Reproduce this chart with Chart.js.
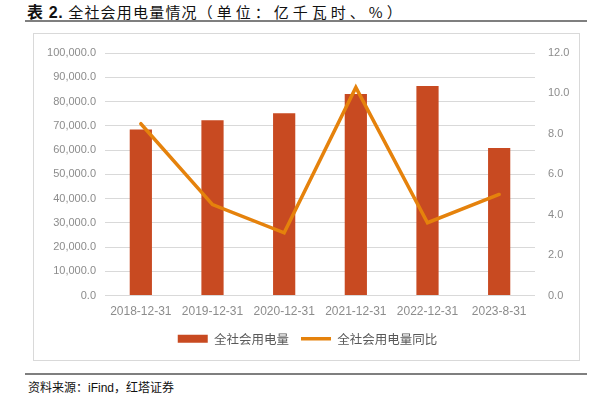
<!DOCTYPE html>
<html>
<head>
<meta charset="utf-8">
<script src="https://cdn.jsdelivr.net/npm/chart.js@4"></script>
<style>
  body { margin: 0; width: 600px; height: 398px; background: #fff; position: relative; overflow: hidden; }
  .title { position: absolute; left: 27px; top: -1px; font: 15px "Noto Sans CJK SC", sans-serif; color: #111; white-space: nowrap; letter-spacing: 1.2px; }
  .title b { font: bold 16px "Liberation Sans", "Noto Sans CJK SC", sans-serif; margin-right: 5px; letter-spacing: 0.6px; }
  .title .unit { letter-spacing: 4px; }
  .rule { position: absolute; left: 25px; width: 562px; height: 2px; background: #7f7f7f; }
  .frame { position: absolute; left: 33px; top: 33px; width: 545px; height: 326px; border: 1px solid #d9d9d9; }
  .source { position: absolute; left: 28px; top: 378px; font: 12px "Noto Sans CJK SC", sans-serif; color: #111; white-space: nowrap; }
  .source span { font-family: "Liberation Sans", sans-serif; }
  #chartWrap { position: absolute; left: 0; top: 0; width: 600px; height: 398px; }
</style>
</head>
<body>
<div class="title"><b>表 2.</b>全社会用电量情况<span class="unit">（单位：亿千瓦时、%）</span></div>
<div class="rule" style="top:20px"></div>
<div class="frame"></div>
<div class="rule" style="top:373px"></div>
<div class="source">资料来源：<span>iFind</span>，红塔证券</div>
<div id="chartWrap"><canvas id="myChart" width="600" height="398"></canvas></div>
<script>
const categories = ['2018-12-31', '2019-12-31', '2020-12-31', '2021-12-31', '2022-12-31', '2023-8-31'];
const consumption = [68449, 72255, 75110, 83128, 86372, 60826];
const growth = [8.5, 4.5, 3.1, 10.3, 3.6, 5.0];
const leftTicks = { min: 0, max: 100000, step: 10000 };
const rightTicks = { min: 0, max: 12, step: 2 };

const tickColor = '#8c8c8c';
const numFont = '"Liberation Sans", "Noto Sans CJK SC", sans-serif';

const ctx = document.getElementById('myChart').getContext('2d');

function legendLabels(c) {
    return c.data.datasets.map((ds, i) => ({
        text: ds.label,
        datasetIndex: i,
        fillStyle: ds.type === 'bar' ? ds.backgroundColor : ds.borderColor,
        strokeStyle: ds.type === 'bar' ? ds.backgroundColor : ds.borderColor,
        lineWidth: ds.type === 'bar' ? 0 : 3.5,
        pointStyle: ds.type === 'bar' ? 'rect' : 'line',
        fontColor: '#595959',
        hidden: false
    }));
}

const chart = new Chart(ctx, {
    data: {
        labels: categories,
        datasets: [{
            type: 'bar',
            label: '全社会用电量',
            data: consumption,
            backgroundColor: '#c84a21',
            borderWidth: 0,
            barPercentage: 0.31,
            categoryPercentage: 1,
            yAxisID: 'y',
            order: 1
        }, {
            type: 'line',
            label: '全社会用电量同比',
            data: growth,
            borderColor: '#e5820c',
            backgroundColor: '#e5820c',
            borderWidth: 3.5,
            borderCapStyle: 'round',
            pointRadius: 0,
            tension: 0,
            yAxisID: 'y1',
            order: 0
        }]
    },
    options: {
        responsive: false,
        animation: false,
        layout: {
            padding: { left: 40, right: 25, top: 53, bottom: 43 }
        },
        plugins: {
            tooltip: { enabled: false },
            legend: {
                position: 'bottom',
                labels: {
                    usePointStyle: true,
                    boxHeight: 8,
                    pointStyleWidth: 30,
                    padding: 12,
                    color: '#595959',
                    font: { family: '"Noto Sans CJK SC", sans-serif', size: 12.5 },
                    generateLabels: legendLabels
                }
            }
        },
        scales: {
            x: {
                grid: { display: false, drawTicks: false },
                border: { display: false },
                ticks: {
                    color: tickColor,
                    padding: 9,
                    maxRotation: 0,
                    autoSkip: false,
                    font: { family: numFont, size: 12 }
                },
                afterFit(scale) { scale.height = 25; }
            },
            y: {
                position: 'left',
                min: leftTicks.min,
                max: leftTicks.max,
                grid: { color: '#d9d9d9', lineWidth: 1, drawTicks: false },
                border: { display: false },
                ticks: {
                    stepSize: leftTicks.step,
                    color: tickColor,
                    padding: 9,
                    font: { family: numFont, size: 11 },
                    callback: v => v.toLocaleString('en-US', { minimumFractionDigits: 1, maximumFractionDigits: 1 })
                },
                afterFit(scale) { scale.width = 65; }
            },
            y1: {
                position: 'right',
                min: rightTicks.min,
                max: rightTicks.max,
                grid: { display: false, drawTicks: false },
                border: { display: false },
                ticks: {
                    stepSize: rightTicks.step,
                    color: tickColor,
                    padding: 13,
                    font: { family: numFont, size: 11 },
                    callback: v => v.toFixed(1)
                },
                afterFit(scale) { scale.width = 40; }
            }
        }
    }
});
</script>
</body>
</html>
